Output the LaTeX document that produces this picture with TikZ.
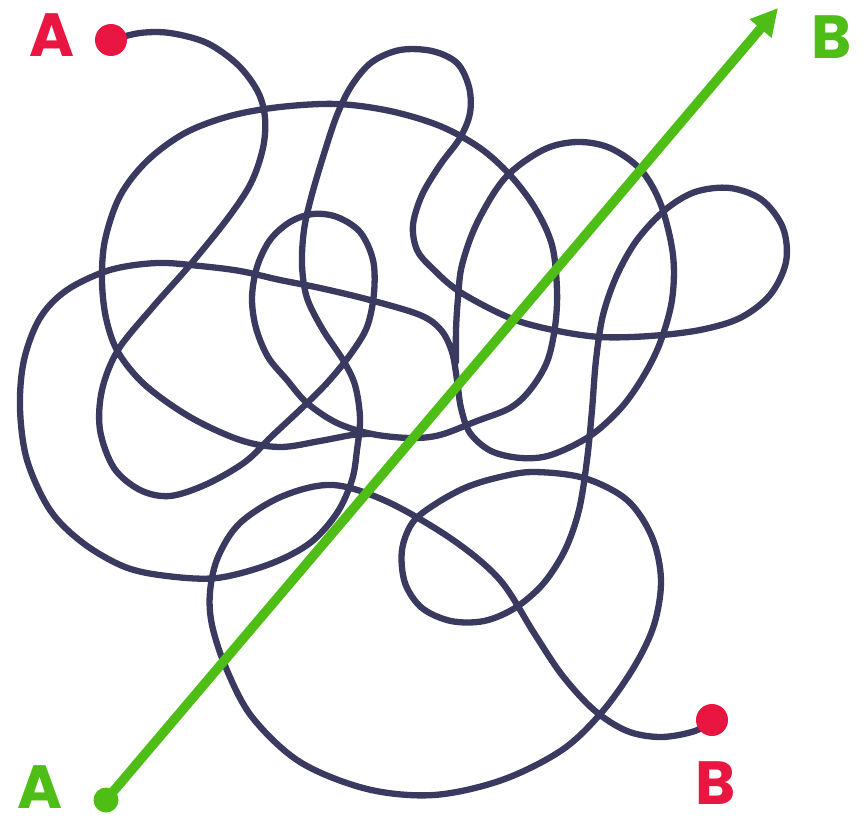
\documentclass[tikz,border=0pt]{standalone}
\usepackage{fontspec}
\setmainfont{Poppins}
\usetikzlibrary{arrows.meta}
\definecolor{navy}{RGB}{58,58,96}
\definecolor{rd}{RGB}{232,22,64}
\definecolor{gr}{RGB}{78,190,22}
\begin{document}
\begin{tikzpicture}[x=1pt,y=-1pt,
  strand/.style={draw=navy, line width=6.3pt, line cap=round, line join=round},
  dotn/.style={circle, inner sep=0pt, minimum size=#1},
  lbl/.style={inner sep=0pt, font=\fontsize{61}{61}\selectfont\bfseries}]
\useasboundingbox (0,0) rectangle (868,816);
\fill[white] (0,0) rectangle (868,816);
\coordinate (pA) at (111,40);
\coordinate (pB) at (712,720);
\coordinate (qA) at (106,800);
\coordinate (qB) at (778,8);
% tangled path, part 1 (from A)
\draw[strand] plot[smooth, tension=0.55] coordinates {(pA) (140,33) (170,33) (207,43) (238,65) (258,92) (265,118) (263,148) (251,183) (228,218) (190,265) (152,308) (118,350) (102,390) (100,430) (114,468) (140,490) (170,496) (207,484) (245,462) (272,436) (303,407) (327,383) (350,355) (367,327) (374,293) (373,260) (360,232) (337,217) (313,214) (290,222) (270,240) (257,267) (252,298) (256,328) (268,357) (287,380) (307,403) (337,423) (372,434) (410,438) (440,435) (477,421) (510,408) (530,390) (547,362) (555,327) (557,290) (552,245) (535,208) (510,175) (480,148) (440,126) (390,111) (337,104) (280,107) (230,116) (185,133) (147,161) (120,196) (105,240) (102,280) (106,318) (118,352) (145,385) (190,417) (240,440) (280,447) (320,441) (352,435) (372,434)};
% tangled path, part 2 (to B)
\draw[strand] plot[smooth, tension=0.55] coordinates {(456,362) (456,330) (458,298) (462,265) (477,223) (505,178) (543,150) (577,142) (610,148) (641,170) (661,205) (673,255) (672,300) (660,343) (643,377) (621,408) (590,436) (551,455) (521,458) (491,451) (470,433) (461,408) (457,380) (452,352) (441,330) (420,315) (370,300) (320,288) (280,280) (240,271) (200,266) (157,263) (110,270) (67,290) (40,318) (24,360) (20,408) (27,460) (50,510) (83,543) (125,567) (167,576) (217,578) (270,564) (310,543) (337,513) (352,480) (357,450) (360,418) (355,385) (343,360) (323,330) (307,298) (302,265) (304,230) (311,198) (323,157) (337,115) (352,85) (372,62) (400,50) (432,51) (457,63) (469,87) (470,113) (460,138) (440,165) (422,195) (413,225) (417,250) (432,268) (460,292) (510,318) (553,330) (600,337) (650,336) (700,330) (740,318) (770,295) (786,262) (783,228) (762,200) (730,188) (695,192) (665,210) (637,240) (617,275) (603,315) (596,360) (592,410) (587,460) (579,510) (565,550) (543,584) (515,608) (484,621) (451,621) (422,608) (405,583) (402,550) (413,522) (437,503) (467,487) (500,477) (534,472) (584,478) (627,500) (652,537) (661,580) (654,625) (634,667) (602,712) (562,750) (502,780) (434,795) (367,789) (300,762) (252,717) (226,668) (212,625) (210,592) (218,557) (240,523) (283,496) (333,485) (388,502) (453,540) (500,580) (534,633) (562,675) (594,710) (627,731) (661,737) (695,731) (pB)};
% straight path
\draw[draw=gr, line width=9.5pt, -{Triangle[length=27pt,width=27pt]}] (qA) -- (qB);
% dots and labels
\node[dotn=32pt, fill=rd] (rA) at (pA) {};
\node[dotn=32pt, fill=rd] (rB) at (pB) {};
\node[dotn=25pt, fill=gr] (gA) at (qA) {};
\node[lbl, text=rd] (tA) at (52,35) {A};
\node[lbl, text=rd] (tB) at (716,783) {B};
\node[lbl, text=gr] (uA) at (40,787) {A};
\node[lbl, text=gr] (uB) at (832,37) {B};
\end{tikzpicture}
\end{document}
